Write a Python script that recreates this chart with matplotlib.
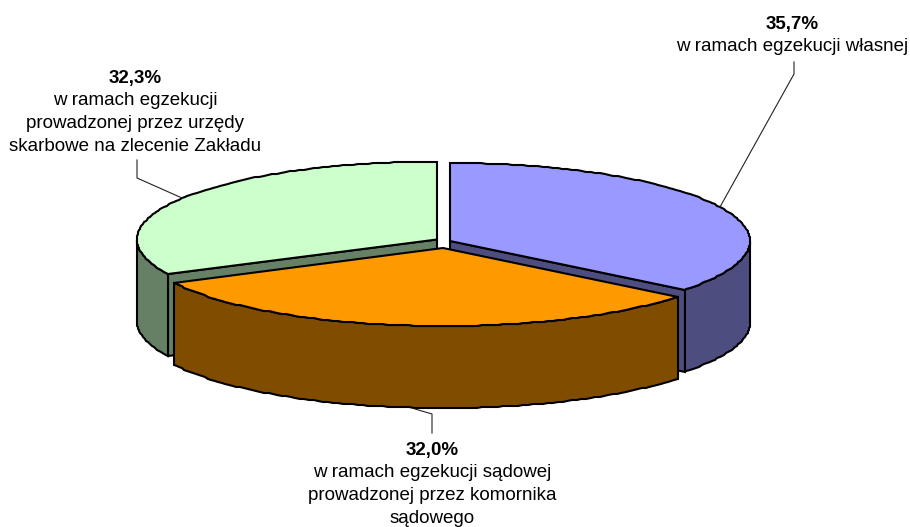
import numpy as np
import matplotlib
matplotlib.use('Agg')
import matplotlib.pyplot as plt

# shares of each slice, clockwise from the top
shares = [35.7, 32.0, 32.3]
share_labels = ['35,7%', '32,0%', '32,3%']
descriptions = [['w ramach egzekucji własnej'],
                ['w ramach egzekucji sądowej', 'prowadzonej przez komornika', 'sądowego'],
                ['w ramach egzekucji', 'prowadzonej przez urzędy', 'skarbowe na zlecenie Zakładu']]
top_colors = ['#9999ff', '#ff9900', '#ccffcc']
side_colors = ['#4d4d80', '#804d00', '#668066']

# slice apex in pixels (exploded look), ellipse radii and depth
centers = [(450, 241), (443, 248), (437, 239.5)]
rx, ry, depth = 300, 78, 82

plt.rcParams['font.family'] = ['Liberation Sans', 'DejaVu Sans']
fig = plt.figure(figsize=(9.10, 5.27), dpi=100)
ax = fig.add_axes([0, 0, 1, 1])
ax.set_xlim(0, 910)
ax.set_ylim(527, 0)
ax.axis('off')

edges = np.cumsum([0] + shares) / sum(shares) * 2 * np.pi


def arc(c, a0, a1):
    # rounded to whole pixels, the original outline is stepped
    t = np.arange(a0, a1, np.radians(1))
    t = np.append(t, a1)
    return np.round(c[0] + rx * np.sin(t)), np.round(c[1] - ry * np.cos(t))


def face(xs, ys, color):
    ax.fill(xs, ys, facecolor=color, edgecolor='black', lw=1.5, joinstyle='miter')


# leader lines
ax.plot([720, 794, 794], [207, 74, 62], color='#222222', lw=0.8)
ax.plot([182, 137, 137], [198, 178, 160], color='#222222', lw=0.8)
ax.plot([415, 432, 432], [409, 414, 433], color='#222222', lw=0.8)

# back to front: blue, green, orange
for i in [0, 2, 1]:
    c = centers[i]
    a0, a1 = edges[i], edges[i + 1]
    x, y = arc(c, a0, a1)
    # cut face next to the orange slice
    if i == 0:
        face([c[0], x[-1], x[-1], c[0]], [c[1], y[-1], y[-1] + depth, c[1] + depth], side_colors[i])
    if i == 2:
        face([c[0], x[0], x[0], c[0]], [c[1], y[0], y[0] + depth, c[1] + depth], side_colors[i])
    # outer wall, only the part facing the viewer
    lo, hi = max(a0, np.pi / 2), min(a1, 3 * np.pi / 2)
    wx, wy = arc(c, lo, hi)
    face(np.r_[wx, wx[::-1]], np.r_[wy, wy[::-1] + depth], side_colors[i])
    # top
    face(np.r_[c[0], x], np.r_[c[1], y], top_colors[i])

# labels, y is the baseline of the bold line
label_pos = [(792, 28.5), (432, 454.5), (135, 82.5)]
line_step = 22.7
for (lx, ly), share, lines in zip(label_pos, share_labels, descriptions):
    ax.text(lx, ly, share, ha='center', va='baseline', fontsize=13.5, fontweight='bold')
    for k, line in enumerate(lines):
        ax.text(lx, ly + (k + 1) * line_step, line, ha='center', va='baseline', fontsize=13.5)

fig.savefig('out.png', dpi=100)
